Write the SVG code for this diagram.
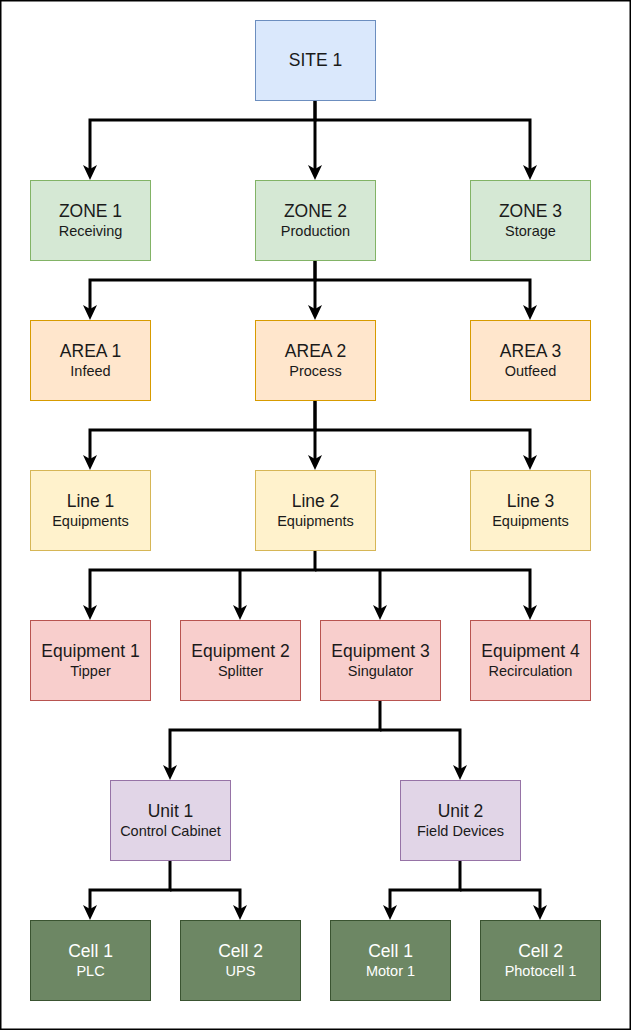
<svg xmlns="http://www.w3.org/2000/svg" width="632" height="1031" viewBox="0 0 632 1031">
<defs>
<style>
.n rect{stroke-width:1}
.t{font-family:"Liberation Sans",Arial,sans-serif;font-size:17.5px;fill:#1a1a1a;text-anchor:middle}
.s{font-family:"Liberation Sans",Arial,sans-serif;font-size:14.5px;fill:#1a1a1a;text-anchor:middle}
.w{fill:#ffffff}
.blue{fill:#dae8fc;stroke:#6c8ebf}
.green{fill:#d5e8d4;stroke:#82b366}
.orange{fill:#ffe6cc;stroke:#d79b00}
.yellow{fill:#fff2cc;stroke:#d6b656}
.red{fill:#f8cecc;stroke:#b85450}
.purple{fill:#e1d5e7;stroke:#9673a6}
.dgreen{fill:#6d8764;stroke:#3a5431}
.c path{fill:none;stroke:#000;stroke-width:3;stroke-linejoin:miter}
</style>
<marker id="arr" markerUnits="userSpaceOnUse" markerWidth="16" markerHeight="14" refX="4" refY="7" orient="auto" overflow="visible">
<path d="M0,0 L15,7 L0,14 L4,7 Z" fill="#000"/>
</marker>
</defs>
<rect x="0.75" y="0.75" width="629.5" height="1028.5" fill="#fff" stroke="#000" stroke-width="1.5"/>

<g id="connectors" class="c">
<path d="M315,100 V120 H90 V169" marker-end="url(#arr)"/>
<path d="M315,100 V169" marker-end="url(#arr)"/>
<path d="M315,120 H530 V169" marker-end="url(#arr)"/>
<path d="M315,260 V280 H90 V309" marker-end="url(#arr)"/>
<path d="M315,260 V309" marker-end="url(#arr)"/>
<path d="M315,280 H530 V309" marker-end="url(#arr)"/>
<path d="M315,400 V430 H90 V459" marker-end="url(#arr)"/>
<path d="M315,400 V459" marker-end="url(#arr)"/>
<path d="M315,430 H530 V459" marker-end="url(#arr)"/>
<path d="M315,550 V570 H90 V609" marker-end="url(#arr)"/>
<path d="M240,570 V609" marker-end="url(#arr)"/>
<path d="M380,570 V609" marker-end="url(#arr)"/>
<path d="M315,570 H530 V609" marker-end="url(#arr)"/>
<path d="M380,700 V730 H170 V769" marker-end="url(#arr)"/>
<path d="M380,730 H460 V769" marker-end="url(#arr)"/>
<path d="M170,860 V890 H90 V909" marker-end="url(#arr)"/>
<path d="M170,890 H240 V909" marker-end="url(#arr)"/>
<path d="M460,860 V890 H390 V909" marker-end="url(#arr)"/>
<path d="M460,890 H540 V909" marker-end="url(#arr)"/>
</g>

<g id="site1" class="n"><rect class="blue" x="255.5" y="20.5" width="120" height="80"/><text class="t" x="315.5" y="66">SITE 1</text></g>

<g id="zone1" class="n"><rect class="green" x="30.5" y="180.5" width="120" height="80"/><text class="t" x="90.5" y="217">ZONE 1</text><text class="s" x="90.5" y="236">Receiving</text></g>
<g id="zone2" class="n"><rect class="green" x="255.5" y="180.5" width="120" height="80"/><text class="t" x="315.5" y="217">ZONE 2</text><text class="s" x="315.5" y="236">Production</text></g>
<g id="zone3" class="n"><rect class="green" x="470.5" y="180.5" width="120" height="80"/><text class="t" x="530.5" y="217">ZONE 3</text><text class="s" x="530.5" y="236">Storage</text></g>

<g id="area1" class="n"><rect class="orange" x="30.5" y="320.5" width="120" height="80"/><text class="t" x="90.5" y="357">AREA 1</text><text class="s" x="90.5" y="376">Infeed</text></g>
<g id="area2" class="n"><rect class="orange" x="255.5" y="320.5" width="120" height="80"/><text class="t" x="315.5" y="357">AREA 2</text><text class="s" x="315.5" y="376">Process</text></g>
<g id="area3" class="n"><rect class="orange" x="470.5" y="320.5" width="120" height="80"/><text class="t" x="530.5" y="357">AREA 3</text><text class="s" x="530.5" y="376">Outfeed</text></g>

<g id="line1" class="n"><rect class="yellow" x="30.5" y="470.5" width="120" height="80"/><text class="t" x="90.5" y="507">Line 1</text><text class="s" x="90.5" y="526">Equipments</text></g>
<g id="line2" class="n"><rect class="yellow" x="255.5" y="470.5" width="120" height="80"/><text class="t" x="315.5" y="507">Line 2</text><text class="s" x="315.5" y="526">Equipments</text></g>
<g id="line3" class="n"><rect class="yellow" x="470.5" y="470.5" width="120" height="80"/><text class="t" x="530.5" y="507">Line 3</text><text class="s" x="530.5" y="526">Equipments</text></g>

<g id="equip1" class="n"><rect class="red" x="30.5" y="620.5" width="120" height="80"/><text class="t" x="90.5" y="657">Equipment 1</text><text class="s" x="90.5" y="676">Tipper</text></g>
<g id="equip2" class="n"><rect class="red" x="180.5" y="620.5" width="120" height="80"/><text class="t" x="240.5" y="657">Equipment 2</text><text class="s" x="240.5" y="676">Splitter</text></g>
<g id="equip3" class="n"><rect class="red" x="320.5" y="620.5" width="120" height="80"/><text class="t" x="380.5" y="657">Equipment 3</text><text class="s" x="380.5" y="676">Singulator</text></g>
<g id="equip4" class="n"><rect class="red" x="470.5" y="620.5" width="120" height="80"/><text class="t" x="530.5" y="657">Equipment 4</text><text class="s" x="530.5" y="676">Recirculation</text></g>

<g id="unit1" class="n"><rect class="purple" x="110.5" y="780.5" width="120" height="80"/><text class="t" x="170.5" y="817">Unit 1</text><text class="s" x="170.5" y="836">Control Cabinet</text></g>
<g id="unit2" class="n"><rect class="purple" x="400.5" y="780.5" width="120" height="80"/><text class="t" x="460.5" y="817">Unit 2</text><text class="s" x="460.5" y="836">Field Devices</text></g>

<g id="cell1a" class="n"><rect class="dgreen" x="30.5" y="920.5" width="120" height="80"/><text class="t w" x="90.5" y="957">Cell 1</text><text class="s w" x="90.5" y="976">PLC</text></g>
<g id="cell2a" class="n"><rect class="dgreen" x="180.5" y="920.5" width="120" height="80"/><text class="t w" x="240.5" y="957">Cell 2</text><text class="s w" x="240.5" y="976">UPS</text></g>
<g id="cell1b" class="n"><rect class="dgreen" x="330.5" y="920.5" width="120" height="80"/><text class="t w" x="390.5" y="957">Cell 1</text><text class="s w" x="390.5" y="976">Motor 1</text></g>
<g id="cell2b" class="n"><rect class="dgreen" x="480.5" y="920.5" width="120" height="80"/><text class="t w" x="540.5" y="957">Cell 2</text><text class="s w" x="540.5" y="976">Photocell 1</text></g>
</svg>
